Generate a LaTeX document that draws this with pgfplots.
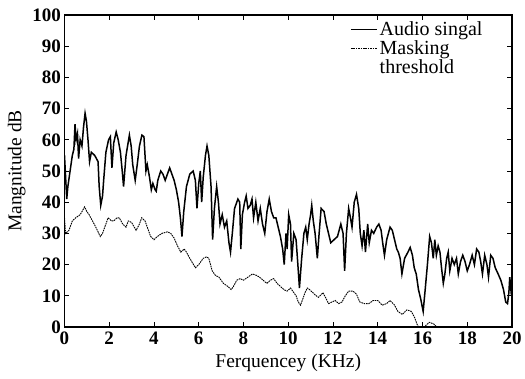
\documentclass[border=0pt]{standalone}
\usepackage{fontspec}
\setmainfont{Liberation Serif}
\usepackage{pgfplots}
\pgfplotsset{compat=1.18}
\begin{document}
\begin{tikzpicture}
\begin{axis}[
  scale only axis, width=447.5pt, height=312pt,
  xmin=0, xmax=20, ymin=0, ymax=100,
  xtick={0,2,...,20}, ytick={0,10,...,100},
  tick align=inside, major tick length=5pt,
  /pgf/number format/assume math mode=true,
  tick label style={font=\fontsize{19}{21}\selectfont\bfseries},
  xticklabel style={yshift=-1pt},
  label style={font=\fontsize{19.5}{21}\selectfont},
  xlabel={Ferquencey (KHz)}, ylabel={Mangnitude dB},
  xlabel style={yshift=-3pt}, ylabel style={yshift=0pt},
  axis line style={line width=1.1pt},
  every tick/.style={black, line width=0.9pt},
  clip=true,
  legend style={draw=none, fill=none, at={(rel axis cs:0.638,0.985)}, anchor=north west,
    font=\fontsize{20}{20}\selectfont, cells={anchor=west}, row sep=-0.5pt, inner sep=0pt},
  legend image code/.code={\draw[#1] (0pt,0pt) -- (26pt,0pt);},
]
\addplot[black, line width=1.5pt] coordinates {
(0,55)(0.05,48)(0.1,41)(0.15,45)(0.25,50)(0.35,55)(0.42,57)(0.47,65)(0.52,60)(0.58,62)
(0.63,54)(0.7,60)(0.78,58)(0.85,64)(0.92,68.5)(0.98,66)(1.05,60)(1.12,53)(1.2,56)(1.35,55)
(1.5,53)(1.55,45)(1.62,39)(1.7,42)(1.75,47)(1.85,56)(1.97,60)(2.05,61)(2.12,51)(2.2,59)
(2.31,62.5)(2.4,60)(2.5,56)(2.58,50)(2.64,45)(2.75,55)(2.9,61.5)(2.98,58)(3.05,52)(3.16,47)
(3.25,52)(3.35,58)(3.46,61.5)(3.55,61)(3.64,50)(3.7,52)(3.8,48)(3.88,44)(3.95,46)(4.05,44)
(4.1,43.5)(4.17,47)(4.3,50)(4.4,49)(4.5,47)(4.6,49)(4.7,51)(4.8,49)(4.9,47)(5.0,44)
(5.1,40)(5.18,35)(5.25,29)(5.33,37)(5.45,45)(5.6,49)(5.75,50)(5.85,47)(5.92,38)(6.0,46)
(6.07,50)(6.13,40)(6.2,48)(6.3,55)(6.37,58)(6.45,55)(6.55,45)(6.62,28)(6.7,38)(6.8,45)
(6.88,40)(6.95,33)(7.05,36)(7.15,32)(7.25,34)(7.35,27)(7.42,24)(7.5,30)(7.6,38)(7.75,41)
(7.83,40)(7.88,25)(7.95,36)(8.05,40)(8.12,42)(8.2,38)(8.3,39)(8.38,41)(8.45,35)(8.55,40)
(8.65,34)(8.75,38)(8.85,33)(8.95,30)(9.05,37)(9.15,41)(9.25,37)(9.35,35)(9.45,35)(9.55,32)
(9.65,29)(9.75,25)(9.82,20)(9.9,30)(9.95,25)(10.02,36)(10.1,33)(10.15,21)(10.25,30)(10.35,28)
(10.43,20)(10.5,12.5)(10.6,22)(10.7,30)(10.78,32)(10.85,28)(10.93,33)(11.0,36)(11.05,39)(11.12,34)
(11.2,30)(11.3,22)(11.38,30)(11.47,38)(11.6,37)(11.7,33)(11.8,30)(11.9,27)(12.05,28)(12.2,29)
(12.35,33)(12.45,30)(12.52,18)(12.6,30)(12.7,38)(12.78,35)(12.85,32)(12.95,40)(13.05,42.5)(13.15,38)
(13.22,30)(13.3,26)(13.38,31)(13.45,24)(13.55,33)(13.62,27)(13.72,31)(13.82,30)(13.95,32)(14.05,33)
(14.15,31)(14.22,27)(14.3,23)(14.4,28)(14.55,32)(14.65,31)(14.75,28)(14.85,25)(14.92,24)(15.0,22)
(15.08,17)(15.2,22)(15.35,24)(15.45,25.5)(15.55,23)(15.63,19)(15.72,17)(15.82,12)(15.92,9)(16.03,5)
(16.12,12)(16.22,20)(16.32,29)(16.4,27)(16.48,22)(16.55,28)(16.62,23)(16.7,26)(16.78,24)(16.85,19)
(16.93,14)(17.0,17)(17.08,22)(17.15,24)(17.22,18)(17.32,22)(17.42,20)(17.52,22)(17.6,17)(17.7,21)
(17.8,23)(17.9,21)(18.0,18)(18.1,20)(18.22,23)(18.32,20)(18.42,25)(18.52,24)(18.6,21)(18.68,17)
(18.78,23)(18.88,20)(18.95,16)(19.05,23)(19.15,22)(19.25,19)(19.38,17)(19.5,15)(19.62,12)(19.72,8)
(19.8,7.5)(19.86,11)(19.9,16)(19.95,12)(20.0,14)
};
\addlegendentry{Audio singal}
\addplot[black, line width=0.9pt, dash pattern=on 1.6pt off 0.8pt] coordinates {
(0,35)(0.05,30)(0.2,31)(0.35,34)(0.5,35)(0.7,36)(0.9,38.5)(1.0,37)(1.1,36)(1.25,34)
(1.4,32)(1.6,29)(1.7,30)(1.85,33)(1.95,35)(2.1,34)(2.2,34)(2.35,35)(2.45,35)(2.6,33)
(2.75,32)(2.85,34)(3.0,33.5)(3.2,31)(3.35,33)(3.45,35)(3.6,34)(3.7,32)(3.85,29)(4.0,28)
(4.15,29)(4.35,30)(4.6,30.5)(4.75,30)(4.9,28.5)(5.05,26)(5.2,24)(5.35,25)(5.45,24)(5.6,22)
(5.85,19)(6.0,20)(6.2,22)(6.35,22.5)(6.45,22)(6.6,18)(6.75,16.5)(6.9,16)(7.1,14)(7.3,13)
(7.45,12)(7.55,13)(7.7,15)(7.85,15.5)(8.0,15)(8.2,16)(8.4,17)(8.6,16.5)(8.8,15.5)(8.95,14.5)
(9.05,14)(9.2,15)(9.35,15.5)(9.5,14)(9.65,13)(9.8,12)(9.95,11.5)(10.1,12.5)(10.25,11)(10.35,10)
(10.45,8)(10.55,7)(10.65,9)(10.75,11)(10.85,12.5)(10.95,12)(11.1,11)(11.25,10)(11.35,9.5)(11.55,11)
(11.7,9)(11.8,7.5)(11.95,8)(12.1,8.5)(12.25,7.5)(12.4,8)(12.55,10)(12.7,11.5)(12.9,11.5)(13.05,10.5)
(13.2,8)(13.4,7.5)(13.6,7.5)(13.8,8.5)(14.0,8.5)(14.2,7)(14.4,7.5)(14.55,8.5)(14.75,7)(14.9,5)
(15.1,4)(15.3,5.5)(15.5,5)(15.65,3)(15.75,1)(15.85,-0.5)(16.0,-1)(16.15,0.5)(16.3,1.5)(16.5,1)
(16.7,-0.5)(16.9,-3)(17.5,-5)(18.5,-6)(20,-8)
};
\addlegendentry{Masking}
\addlegendimage{draw opacity=0}
\addlegendentry{threshold}
\end{axis}
\pgfresetboundingbox
\path[use as bounding box] (-64.5pt,-51pt) rectangle (460.5pt,327pt);
\end{tikzpicture}
\end{document}
